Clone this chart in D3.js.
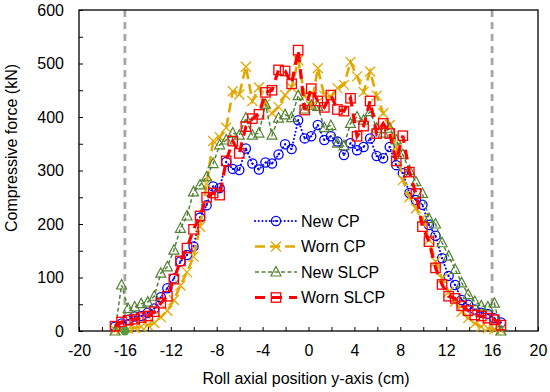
<!DOCTYPE html>
<html>
<head>
<meta charset="utf-8">
<script src="https://cdn.jsdelivr.net/npm/d3@7"></script>
<style>
body{margin:0;background:#fff}
svg{display:block;font-family:"Liberation Sans",Arial,sans-serif}
</style>
</head>
<body>
<svg id="chart" width="550" height="392"></svg>
<script>
// roll axial positions (cm), shared by all four series
var xPos = [-16.86,-16.29,-15.72,-15.15,-14.58,-14.01,-13.44,-12.87,-12.30,-11.73,
            -11.16,-10.59,-10.02,-9.45,-8.88,-8.31,-7.74,-7.17,-6.60,-6.03,
            -5.46,-4.89,-4.32,-3.75,-3.18,-2.61,-2.04,-1.47,-0.90,-0.33,
            0.24,0.81,1.38,1.95,2.52,3.09,3.66,4.23,4.80,5.37,
            5.94,6.51,7.08,7.65,8.22,8.79,9.36,9.93,10.50,11.07,
            11.64,12.21,12.78,13.35,13.92,14.49,15.06,15.63,16.20,16.77];

var newCP = [8,14,21,27,28,34,42,63,80,98,
             130,142,158,212,235,270,267,316,303,301,
             341,313,302,315,313,330,349,340,394,360,
             364,385,357,364,354,329,351,338,344,360,
             327,323,344,310,295,258,245,236,198,178,
             136,103,86,58,49,40,34,32,24,16];

var wornCP = [2,3,4,6,8,11,15,26,38,58,
              85,110,139,195,275,355,362,380,448,442,
              494,430,455,425,407,419,441,455,506,440,
              420,491,440,438,454,460,503,476,447,485,
              440,407,385,345,282,250,229,211,170,130,
              98,73,55,36,24,14,8,5,3,2];

var newSLCP = [0,86,42,45,51,54,65,108,120,151,
               192,215,260,273,288,313,348,357,370,366,
               398,366,370,424,366,398,404,399,440,415,
               422,420,380,384,351,346,388,400,394,410,
               379,370,379,357,330,300,279,257,210,200,
               165,140,115,90,68,55,47,45,52,0];

var wornSLCP = [9,17,20,22,25,28,36,52,65,97,
                131,155,190,215,250,258,254,318,355,332,
                382,397,405,446,450,488,486,462,525,413,
                453,430,418,441,414,411,435,364,383,430,
                369,388,369,318,365,297,257,195,167,118,
                87,65,61,47,38,30,28,24,21,11];

var seriesNames = ["New CP","Worn CP","New SLCP","Worn SLCP"];
var xTickLabels = [-20,-16,-12,-8,-4,0,4,8,12,16,20];
var xTicksAll = [-20,-18,-16,-14,-12,-10,-8,-6,-4,-2,0,2,4,6,8,10,12,14,16,18,20];
var yTickLabels = [0,100,200,300,400,500,600];
var yTicksAll = [0,50,100,150,200,250,300,350,400,450,500,550,600];
var edgeLines = [-16,16];

var plotL = 79, plotR = 538, plotT = 10, plotB = 331;

var svg = d3.select("#chart");
var x = d3.scaleLinear().domain([-20,20]).range([plotL,plotR]);
var y = d3.scaleLinear().domain([0,600]).range([plotB,plotT]);

// dashed boundary lines
svg.selectAll("line.edge").data(edgeLines).enter().append("line")
	.attr("class", "edge")
	.attr("x1", d => x(d)).attr("x2", d => x(d))
	.attr("y1", y(600)).attr("y2", y(0))
	.attr("stroke", "#a6a6a6").attr("stroke-width", 2.8)
	.attr("stroke-dasharray", "7,5");

// axes, ticks pointing in
var xAxis = svg.append("g").attr("transform", "translate(0," + plotB + ")")
	.call(d3.axisBottom(x).tickValues(xTicksAll).tickSize(-4).tickPadding(14)
		.tickFormat(d => xTickLabels.indexOf(d) >= 0 ? d : ""));
var yAxis = svg.append("g").attr("transform", "translate(" + plotL + ",0)")
	.call(d3.axisLeft(y).tickValues(yTicksAll).tickSize(-4).tickPadding(15)
		.tickFormat(d => yTickLabels.indexOf(d) >= 0 ? d : ""));
[xAxis, yAxis].forEach(function(g){
	g.select(".domain").remove();
	g.selectAll("line").attr("stroke", "#000");
	g.selectAll("text").attr("font-size", 16).attr("fill", "#000")
		.style("font-family", "'Liberation Sans',Arial,sans-serif");
});
svg.append("rect").attr("x", plotL).attr("y", plotT)
	.attr("width", plotR - plotL).attr("height", plotB - plotT)
	.attr("fill", "none").attr("stroke", "#000").attr("stroke-width", 1.3);

// axis titles
svg.append("text").attr("x", 306).attr("y", 384).attr("text-anchor", "middle")
	.attr("font-size", 16).text("Roll axial position y-axis (cm)");
svg.append("text").attr("transform", "translate(17,148) rotate(-90)")
	.attr("text-anchor", "middle").attr("font-size", 16).text("Compressive force (kN)");

// marker drawers
function drawCircle(g, cx, cy, col){
	g.append("circle").attr("cx", cx).attr("cy", cy).attr("r", 4.6)
		.attr("fill", "none").attr("stroke", col).attr("stroke-width", 1.3);
	g.append("circle").attr("cx", cx).attr("cy", cy).attr("r", 1.1).attr("fill", col);
}
function drawCross(g, cx, cy, col){
	g.append("path").attr("d", "M" + (cx-5) + " " + (cy-5) + " L" + (cx+5) + " " + (cy+5) +
		" M" + (cx-5) + " " + (cy+5) + " L" + (cx+5) + " " + (cy-5))
		.attr("stroke", col).attr("stroke-width", 1.3).attr("fill", "none");
}
function drawTriangle(g, cx, cy, col){
	g.append("path").attr("d", "M" + cx + " " + (cy-5.5) + " L" + (cx+5) + " " + (cy+4) +
		" L" + (cx-5) + " " + (cy+4) + " Z")
		.attr("stroke", col).attr("stroke-width", 1.2).attr("fill", "none");
}
function drawSquare(g, cx, cy, col){
	g.append("rect").attr("x", cx-4.7).attr("y", cy-4.7).attr("width", 9.4).attr("height", 9.4)
		.attr("stroke", col).attr("stroke-width", 1.3).attr("fill", "none");
}

var series = [
	{vals: newCP, col: "#0000ff", w: 2, dash: "0.1,3.6", cap: "round", mk: drawCircle},
	{vals: wornCP, col: "#e2a800", w: 2.6, dash: "10,5", cap: "butt", mk: drawCross},
	{vals: newSLCP, col: "#548235", w: 1.5, dash: "4,2.5", cap: "butt", mk: drawTriangle},
	{vals: wornSLCP, col: "#ff0000", w: 3.2, dash: "10,7", cap: "butt", mk: drawSquare}
];

var line = d3.line().x(d => x(d[0])).y(d => y(d[1]));

series.forEach(function(s){
	var pts = s.vals.map((v, i) => [xPos[i], v]);
	var g = svg.append("g");
	g.append("path").attr("d", line(pts)).attr("fill", "none")
		.attr("stroke", s.col).attr("stroke-width", s.w)
		.attr("stroke-dasharray", s.dash).attr("stroke-linecap", s.cap);
	pts.forEach(p => s.mk(g, x(p[0]), y(p[1]), s.col));
});

// small filled blob where the series meet the boundary at -16
svg.append("circle").attr("cx", x(-16)).attr("cy", y(0)).attr("r", 4.5).attr("fill", "#5b9a3c");

// legend
var lg = svg.append("g");
series.forEach(function(s, i){
	var ly = 221 + i * 25.5;
	lg.append("line").attr("x1", 255).attr("x2", 297).attr("y1", ly).attr("y2", ly)
		.attr("stroke", s.col).attr("stroke-width", s.w)
		.attr("stroke-dasharray", s.dash).attr("stroke-linecap", s.cap);
	s.mk(lg, 276, ly, s.col);
	lg.append("text").attr("x", 301).attr("y", ly).attr("dy", "0.36em")
		.attr("font-size", 16).text(seriesNames[i]);
});
</script>
</body>
</html>
